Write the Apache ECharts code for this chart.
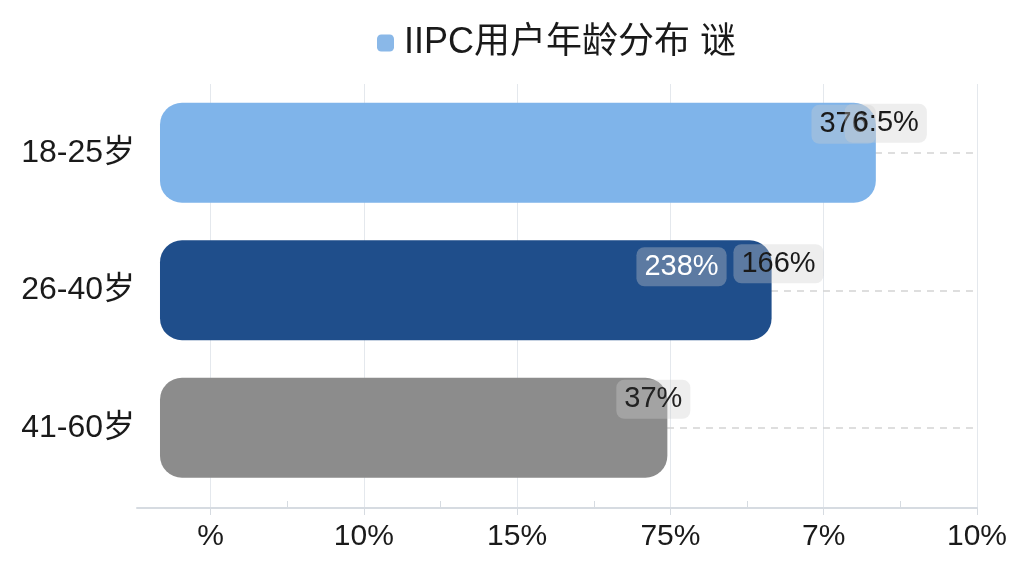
<!DOCTYPE html>
<html>
<head>
<meta charset="utf-8">
<title>IIPC用户年龄分布</title>
<script src="https://cdn.jsdelivr.net/npm/echarts@6/dist/echarts.min.js"></script>
<style>
    html, body { margin: 0; padding: 0; background: #fff; }
    #chart { width: 1024px; height: 576px; }
</style>
</head>
<body>
<div id="chart"></div>
<script>
const seriesName = 'IIPC用户年龄分布 谜'
const categories = ['18-25岁', '26-40岁', '41-60岁']
const barStart = -1.65
const barEnds = [21.7, 18.3, 14.9]
const mainLabels = ['376', '238%', '37%']
const extraLabels = ['6:5%', '166%', '']
const tickValues = [0, 5, 10, 15, 20, 25]
const tickLabels = ['%', '10%', '15%', '75%', '7%', '10%']
const minorTickValues = [2.5, 7.5, 12.5, 17.5, 22.5]

const font = '"Liberation Sans", Arial, "Noto Sans CJK SC", sans-serif'
const barColors = ['#7fb4ea', '#1f4e8b', '#8c8c8c']
const mainOffsets = [[0, 2], [-45, 7], [23, 2]]
const extraOffsets = [[51, 1], [52, 4], [0, 0]]
const mainLabelColors = ['#1a1a1a', '#ffffff', '#222222']

const chart = echarts.init(document.getElementById('chart'))

const labelBase = {
    show: true,
    position: 'insideTopRight',
    distance: 0,
    fontSize: 29,
    fontFamily: font,
    color: '#1a1a1a',
    backgroundColor: 'rgba(205,205,205,0.35)',
    borderRadius: 8,
    padding: [5, 8]
}

const option = {
    backgroundColor: '#fff',
    animation: false,
    legend: {
        data: [seriesName],
        left: 372,
        top: 20,
        itemWidth: 17,
        itemHeight: 17,
        textStyle: {
            fontSize: 36,
            fontFamily: font,
            color: '#1a1a1a',
            padding: [0, 0, 0, 5]
        }
    },
    grid: [
        { left: 137, right: 47, top: 84, bottom: 79.5 },
        { left: 137, right: 47, top: 84, bottom: 68 }
    ],
    xAxis: [
        { type: 'value', gridIndex: 0, min: -2.4, max: 25, show: false },
        {
            type: 'value',
            gridIndex: 1,
            position: 'bottom',
            min: -2.4,
            max: 25,
            axisLine: { show: true, lineStyle: { color: '#d6dbe1', width: 2 } },
            axisTick: { show: true, customValues: tickValues, length: 7, lineStyle: { color: '#d6dbe1' } },
            axisLabel: {
                customValues: tickValues,
                formatter: v => tickLabels[tickValues.indexOf(v)] || '',
                fontSize: 30,
                fontFamily: font,
                color: '#1a1a1a',
                margin: 14
            },
            splitLine: { show: true, lineStyle: { color: '#e4e8ed', width: 1 } }
        },
        {
            // small half-step ticks sitting on the axis line
            type: 'value',
            gridIndex: 1,
            position: 'bottom',
            offset: 0,
            min: -2.4,
            max: 25,
            axisLine: { show: false },
            axisTick: { show: true, inside: true, customValues: minorTickValues, length: 7, lineStyle: { color: '#d6dbe1' } },
            axisLabel: { show: false },
            splitLine: { show: false }
        }
    ],
    yAxis: [
        {
            type: 'category',
            gridIndex: 0,
            data: categories,
            inverse: true,
            axisLine: { show: false },
            axisTick: { show: false },
            axisLabel: { fontSize: 32, fontFamily: font, color: '#1a1a1a', margin: 2 },
            splitLine: { show: false }
        },
        { type: 'value', gridIndex: 1, min: 0, max: 1, show: false }
    ],
    series: [
        {
            name: 'base',
            type: 'bar',
            stack: 'age',
            stackStrategy: 'all',
            barWidth: 100,
            barGap: '-100%',
            itemStyle: { color: 'transparent' },
            silent: true,
            data: categories.map(() => barStart)
        },
        {
            name: seriesName,
            type: 'bar',
            stack: 'age',
            stackStrategy: 'all',
            barWidth: 100,
            barGap: '-100%',
            itemStyle: { color: '#8ab8e8', borderRadius: 22 },
            data: barEnds.map((v, i) => ({
                value: v - barStart,
                itemStyle: { color: barColors[i] },
                label: Object.assign({}, labelBase, {
                    formatter: mainLabels[i],
                    offset: mainOffsets[i],
                    color: mainLabelColors[i]
                })
            }))
        },
        {
            name: 'extra',
            type: 'bar',
            barWidth: 100,
            barGap: '-100%',
            itemStyle: { color: 'transparent' },
            silent: true,
            data: barEnds.map((v, i) => ({
                value: v,
                label: Object.assign({}, labelBase, {
                    show: extraLabels[i] !== '',
                    formatter: extraLabels[i],
                    offset: extraOffsets[i]
                })
            })),
            markLine: {
                silent: true,
                z: 1,
                symbol: ['none', 'none'],
                label: { show: false },
                lineStyle: { color: '#d4d4d4', type: [7, 6], width: 1.5 },
                data: categories.map(c => [{ xAxis: barStart, yAxis: c }, { xAxis: 25, yAxis: c }])
            }
        }
    ]
}

chart.setOption(option)
</script>
</body>
</html>
